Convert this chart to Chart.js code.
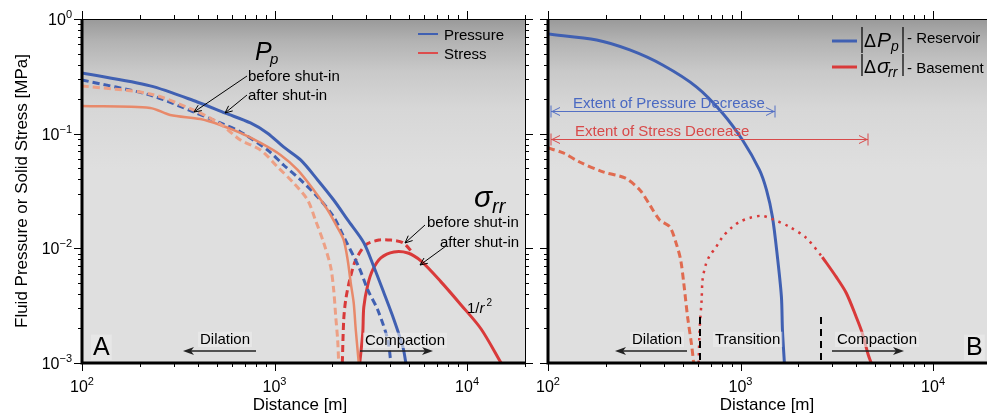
<!DOCTYPE html>
<html>
<head>
<meta charset="utf-8">
<script src="https://cdn.jsdelivr.net/npm/chart.js@4.4.0/dist/chart.umd.min.js"></script>
<style>
  html, body { margin: 0; padding: 0; background: #fff; overflow: hidden; }
  #wrap { position: relative; width: 987px; height: 418px; overflow: hidden; }
  canvas { position: absolute; top: 0; }
  #left { left: 0; }
  #right { left: 535px; }
</style>
</head>
<body>
<div id="wrap">
  <canvas id="left" width="540" height="418"></canvas>
  <canvas id="right" width="456" height="418"></canvas>
</div>
<script>
// ---- data: distance [m] and magnitude [MPa] ----
// panel A
const ppAfterX = [100, 226, 397, 556, 750, 920, 1114, 1366, 1675, 2029, 2399, 2909, 3279, 3697, 4168, 4642, 4812];
const ppAfterY = [0.338, 0.261, 0.189, 0.151, 0.124, 0.101, 0.0766, 0.059, 0.0395, 0.0264, 0.0177, 0.0112, 0.0069, 0.0041, 0.0024, 0.00138, 0.001];
const ppBeforeX = [100, 226, 379, 523, 665, 920, 1114, 1366, 1675, 2029, 2288, 2739, 3051, 3438, 3877, 4020];
const ppBeforeY = [0.294, 0.217, 0.155, 0.124, 0.1035, 0.0721, 0.0533, 0.0395, 0.0281, 0.0188, 0.0126, 0.0069, 0.00434, 0.0029, 0.00159, 0.001];
const stressAfterX = [100, 226, 287, 412, 523, 665, 846, 1075, 1318, 1597, 1888, 2128, 2288, 2399, 2488, 2578, 2642, 2739];
const stressAfterY = [0.174, 0.1675, 0.1455, 0.134, 0.119, 0.1014, 0.083, 0.0652, 0.0483, 0.0323, 0.0216, 0.0151, 0.0118, 0.0079, 0.005, 0.00334, 0.00195, 0.001];
const stressBeforeX = [100, 226, 379, 523, 665, 846, 1037, 1256, 1485, 1630, 1800, 1957, 2029, 2080, 2128, 2154];
const stressBeforeY = [0.261, 0.222, 0.161, 0.1215, 0.088, 0.0721, 0.0513, 0.0372, 0.0264, 0.0177, 0.0112, 0.0069, 0.00434, 0.00252, 0.00159, 0.001];
const sigmaAfterX = [2772, 2873, 2909, 3051, 3236, 3566, 4168, 4930, 5757, 7325, 9310, 11830, 15030];
const sigmaAfterY = [0.001, 0.00183, 0.00308, 0.0048, 0.00648, 0.00824, 0.0093, 0.0091, 0.00776, 0.0051, 0.00321, 0.00198, 0.001];
const sigmaBeforeX = [2250, 2288, 2343, 2458, 2642, 2978, 3483, 4020, 4642, 5230];
const sigmaBeforeY = [0.001, 0.00238, 0.00355, 0.0053, 0.00792, 0.0107, 0.0118, 0.0118, 0.0112, 0.0091];
// panel B
const resPressX = [100, 179, 266, 394, 592, 807, 1024, 1254, 1364, 1465, 1555, 1631, 1651, 1690];
const resPressY = [0.74, 0.656, 0.537, 0.397, 0.255, 0.151, 0.088, 0.0483, 0.0323, 0.0188, 0.0084, 0.00377, 0.00195, 0.001];
const baseDashX = [100, 120, 146, 193, 251, 300, 338, 380, 429, 466, 489, 507, 531, 557, 571];
const baseDashY = [0.075, 0.0679, 0.0566, 0.0464, 0.0411, 0.0323, 0.0239, 0.0177, 0.0154, 0.0107, 0.0079, 0.005, 0.00252, 0.00144, 0.001];
const baseDotX = [606, 613, 628, 635, 659, 691, 742, 807, 909, 988, 1113, 1284, 1465, 1795, 2198, 2659];
const baseDotY = [0.001, 0.00195, 0.00355, 0.0053, 0.00716, 0.00859, 0.0101, 0.0126, 0.0154, 0.017, 0.0184, 0.0192, 0.018, 0.0154, 0.0123, 0.0084];
const baseSolidX = [2659, 3141, 3542, 3990, 4287, 4606, 4775];
const baseSolidY = [0.0084, 0.00563, 0.00408, 0.00252, 0.00183, 0.00118, 0.001];

// axis labels
const xMajor = [100, 1000, 10000];
const xExp = ['2', '3', '4'];
const yMajor = [1, 0.1, 0.01, 0.001];
const yExp = ['0', '\u22121', '\u22122', '\u22123'];

const FONT = "'Liberation Sans', Arial, Helvetica, sans-serif";
const BLUE = '#4060b2';
const RED = '#d93a3a';
const SALMON = '#e8896a';
const SALMON_LT = '#eda085';
const SALMON_DK = '#e06b50';

function pts(xs, ys) {
    return xs.map((x, i) => ({x: x, y: ys[i]}));
}

function line(xs, ys, color, width, dash) {
    return {
        data: pts(xs, ys),
        borderColor: color,
        borderWidth: width,
        borderDash: dash || [],
        borderCapStyle: 'butt',
        pointRadius: 0,
        tension: 0.3,
        fill: false
    };
}

// ---- drawing helpers ----
function txt(ctx, s, x, y, size, color, italic) {
    ctx.font = (italic ? 'italic ' : '') + size + 'px ' + FONT;
    ctx.fillStyle = color || '#000';
    ctx.textAlign = 'left';
    ctx.textBaseline = 'alphabetic';
    ctx.fillText(s, x, y);
    return ctx.measureText(s).width;
}

function drawPow(ctx, x, y, exp, align) {
    ctx.font = '16px ' + FONT;
    const w1 = ctx.measureText('10').width;
    ctx.font = '11px ' + FONT;
    const w2 = ctx.measureText(exp).width;
    const x0 = align === 'center' ? x - (w1 + w2) / 2 : x - w1 - w2;
    txt(ctx, '10', x0, y, 16);
    txt(ctx, exp, x0 + w1, y - 7, 11);
}

function openArrow(ctx, x1, y1, x2, y2, color) {
    const ang = Math.atan2(y2 - y1, x2 - x1), h = 8, sp = 0.42;
    ctx.strokeStyle = color;
    ctx.lineWidth = 1;
    ctx.beginPath();
    ctx.moveTo(x1, y1); ctx.lineTo(x2, y2);
    ctx.moveTo(x2 - h * Math.cos(ang - sp), y2 - h * Math.sin(ang - sp));
    ctx.lineTo(x2, y2);
    ctx.lineTo(x2 - h * Math.cos(ang + sp), y2 - h * Math.sin(ang + sp));
    ctx.stroke();
}

function fillArrow(ctx, x1, y, x2) {
    const d = x2 > x1 ? 1 : -1;
    ctx.strokeStyle = '#222';
    ctx.fillStyle = '#222';
    ctx.lineWidth = 1.3;
    ctx.beginPath(); ctx.moveTo(x1, y); ctx.lineTo(x2 - d * 6, y); ctx.stroke();
    ctx.beginPath();
    ctx.moveTo(x2, y); ctx.lineTo(x2 - d * 11, y - 4); ctx.lineTo(x2 - d * 8, y); ctx.lineTo(x2 - d * 11, y + 4);
    ctx.closePath(); ctx.fill();
}

function boxText(ctx, s, x, y, size) {
    ctx.font = size + 'px ' + FONT;
    const w = ctx.measureText(s).width;
    ctx.fillStyle = 'rgba(236,236,236,0.6)';
    ctx.fillRect(x - 2, y - size * 0.82, w + 4, size * 1.02);
    txt(ctx, s, x, y, size);
}

function extent(ctx, x1, x2, y, color) {
    ctx.strokeStyle = color;
    ctx.lineWidth = 1;
    ctx.beginPath();
    ctx.moveTo(x1, y); ctx.lineTo(x2, y);
    ctx.moveTo(x1, y - 6); ctx.lineTo(x1, y + 6);
    ctx.moveTo(x2, y - 6); ctx.lineTo(x2, y + 6);
    ctx.moveTo(x1 + 9, y - 4); ctx.lineTo(x1 + 1, y); ctx.lineTo(x1 + 9, y + 4);
    ctx.moveTo(x2 - 9, y - 4); ctx.lineTo(x2 - 1, y); ctx.lineTo(x2 - 9, y + 4);
    ctx.stroke();
}

// ---- panel decoration plugin (background, axes, ticks, labels, notes) ----
function decor(cfg) {
    return {
        id: 'decor' + cfg.name,
        beforeDatasetsDraw(chart) {
            const a = chart.chartArea, ctx = chart.ctx;
            const g = ctx.createLinearGradient(0, a.top, 0, a.top + 150);
            g.addColorStop(0, '#999999');
            g.addColorStop(0.15, '#b3b3b3');
            g.addColorStop(0.35, '#c9c9c9');
            g.addColorStop(0.6, '#d7d7d7');
            g.addColorStop(1, '#dfdfdf');
            ctx.save();
            ctx.fillStyle = g;
            ctx.fillRect(a.left, a.top, a.right - a.left, a.bottom - a.top);
            ctx.restore();
        },
        afterDatasetsDraw(chart) {
            const a = chart.chartArea, ctx = chart.ctx;
            const xs = chart.scales.x, ys = chart.scales.y;
            ctx.save();
            // ticks
            ctx.strokeStyle = '#000';
            ctx.lineWidth = 1;
            ctx.beginPath();
            for (let e = 2; e <= 4; e++) {
                for (let k = 1; k <= 9; k++) {
                    const v = k * Math.pow(10, e);
                    if (v > xs.max) continue;
                    const px = Math.round(xs.getPixelForValue(v)) + 0.5;
                    const len = k === 1 ? 8 : 4;
                    ctx.moveTo(px, a.bottom); ctx.lineTo(px, a.bottom + len);
                    ctx.moveTo(px, a.top); ctx.lineTo(px, a.top - len);
                }
            }
            for (let e = -3; e <= 0; e++) {
                for (let k = 1; k <= 9; k++) {
                    const v = k * Math.pow(10, e);
                    if (v > ys.max) continue;
                    const py = Math.round(ys.getPixelForValue(v)) + 0.5;
                    const len = k === 1 ? 8 : 4;
                    ctx.moveTo(a.left, py); ctx.lineTo(a.left - len, py);
                    if (cfg.rightTicks) { ctx.moveTo(a.right, py); ctx.lineTo(a.right + len, py); }
                }
            }
            ctx.stroke();
            // frame
            ctx.beginPath();
            ctx.moveTo(a.left, a.top + 0.5); ctx.lineTo(a.right, a.top + 0.5);
            if (cfg.rightTicks) { ctx.moveTo(a.right + 0.5, a.top); ctx.lineTo(a.right + 0.5, a.bottom); }
            ctx.stroke();
            ctx.lineWidth = 3;
            ctx.beginPath();
            ctx.moveTo(a.left, a.top); ctx.lineTo(a.left, a.bottom); ctx.lineTo(a.right, a.bottom);
            ctx.stroke();
            // tick labels
            xMajor.forEach((v, i) => drawPow(ctx, xs.getPixelForValue(v), 392, xExp[i], 'center'));
            if (cfg.yLabels) {
                yMajor.forEach((v, i) => drawPow(ctx, a.left - 10, ys.getPixelForValue(v) + 6, yExp[i], 'right'));
                ctx.save();
                ctx.translate(27, (a.top + a.bottom) / 2);
                ctx.rotate(-Math.PI / 2);
                ctx.font = '17px ' + FONT;
                ctx.textAlign = 'center';
                ctx.fillStyle = '#000';
                ctx.fillText('Fluid Pressure or Solid Stress [MPa]', 0, 0);
                ctx.restore();
            }
            ctx.font = '17px ' + FONT;
            ctx.textAlign = 'center';
            ctx.fillStyle = '#000';
            ctx.fillText('Distance [m]', cfg.titleX, 410);
            cfg.notes(ctx, cfg.off);
            ctx.restore();
        }
    };
}

function notesA(ctx) {
    // legend
    ctx.lineWidth = 2;
    ctx.strokeStyle = BLUE;
    ctx.beginPath(); ctx.moveTo(418, 34); ctx.lineTo(438, 34); ctx.stroke();
    ctx.strokeStyle = '#dd4d4d';
    ctx.beginPath(); ctx.moveTo(418, 53); ctx.lineTo(438, 53); ctx.stroke();
    txt(ctx, 'Pressure', 444, 40, 15);
    txt(ctx, 'Stress', 444, 59, 15);
    // P_p
    txt(ctx, 'P', 255, 60, 25, '#000', true);
    txt(ctx, 'p', 270, 64, 15, '#000', true);
    txt(ctx, 'before shut-in', 248, 81, 15);
    txt(ctx, 'after shut-in', 248, 100, 15);
    openArrow(ctx, 247, 76, 194, 112, '#000');
    openArrow(ctx, 247, 95, 225, 113, '#000');
    // sigma_rr
    txt(ctx, '\u03c3', 474, 207, 30, '#000', true);
    txt(ctx, 'rr', 492, 213, 20, '#000', true);
    txt(ctx, 'before shut-in', 427, 227, 15);
    txt(ctx, 'after shut-in', 440, 247, 15);
    openArrow(ctx, 425, 225, 405, 243, '#000');
    openArrow(ctx, 446, 246, 420, 265, '#000');
    // 1/r^2
    let w = txt(ctx, '1/', 467, 313, 15);
    w += txt(ctx, 'r', 467 + w, 313, 15, '#000', true);
    txt(ctx, '2', 469 + w, 306, 10);
    // regime notes
    boxText(ctx, 'A', 93, 355, 25);
    boxText(ctx, 'Dilation', 200, 344, 15);
    fillArrow(ctx, 256, 351, 183);
    boxText(ctx, 'Compaction', 365, 345, 15);
    fillArrow(ctx, 360, 351, 433);
}

function notesB(ctx, off) {
    ctx.save();
    ctx.translate(-off, 0);
    // legend
    ctx.lineWidth = 3;
    ctx.strokeStyle = BLUE;
    ctx.beginPath(); ctx.moveTo(832, 41); ctx.lineTo(857, 41); ctx.stroke();
    ctx.strokeStyle = RED;
    ctx.beginPath(); ctx.moveTo(832, 67); ctx.lineTo(857, 67); ctx.stroke();
    ctx.strokeStyle = '#000';
    ctx.lineWidth = 1.2;
    ctx.beginPath();
    ctx.moveTo(862, 27); ctx.lineTo(862, 53);
    ctx.moveTo(903, 27); ctx.lineTo(903, 53);
    ctx.moveTo(862, 54); ctx.lineTo(862, 76);
    ctx.moveTo(903, 54); ctx.lineTo(903, 76);
    ctx.stroke();
    txt(ctx, '\u0394', 864, 47, 18);
    txt(ctx, 'P', 877, 47, 21, '#000', true);
    txt(ctx, 'p', 891, 51, 14, '#000', true);
    txt(ctx, '- Reservoir', 907, 43, 15);
    txt(ctx, '\u0394', 864, 73, 18);
    txt(ctx, '\u03c3', 877, 73, 21, '#000', true);
    txt(ctx, 'rr', 888, 77, 14, '#000', true);
    txt(ctx, '- Basement', 907, 73, 15);
    // extents
    txt(ctx, 'Extent of Pressure Decrease', 573, 108, 15, '#4a69c2');
    extent(ctx, 551, 775, 111.5, '#5470c4');
    txt(ctx, 'Extent of Stress Decrease', 575, 136, 15, '#d84a4a');
    extent(ctx, 551, 868, 139.5, '#d84a4a');
    // transition markers
    ctx.strokeStyle = '#000';
    ctx.lineWidth = 2;
    ctx.setLineDash([7, 5]);
    ctx.beginPath();
    ctx.moveTo(700, 317); ctx.lineTo(700, 363);
    ctx.moveTo(821, 317); ctx.lineTo(821, 363);
    ctx.stroke();
    ctx.setLineDash([]);
    boxText(ctx, 'Dilation', 632, 344, 15);
    fillArrow(ctx, 687, 351, 615);
    boxText(ctx, 'Transition', 715, 344, 15);
    boxText(ctx, 'Compaction', 837, 344, 15);
    fillArrow(ctx, 832, 351, 904);
    boxText(ctx, 'B', 966, 355, 25);
    ctx.restore();
}

function makeChart(id, datasets, cfg) {
    return new Chart(document.getElementById(id), {
        type: 'line',
        data: {datasets: datasets},
        options: {
            responsive: false,
            animation: false,
            events: [],
            layout: {padding: {top: 19, right: cfg.padRight, left: 0, bottom: 0}},
            plugins: {legend: {display: false}, tooltip: {enabled: false}},
            scales: {
                x: {
                    type: 'logarithmic', min: 100, max: 20000,
                    grid: {display: false, drawTicks: false},
                    border: {display: false},
                    ticks: {display: false},
                    afterFit: s => { s.height = 55; }
                },
                y: {
                    type: 'logarithmic', min: 0.001, max: 1,
                    grid: {display: false, drawTicks: false},
                    border: {display: false},
                    ticks: {display: false},
                    afterFit: s => { s.width = cfg.yWidth; }
                }
            }
        },
        plugins: [decor(cfg)]
    });
}

const chartA = makeChart('left', [
    line(stressBeforeX, stressBeforeY, SALMON_LT, 3, [7, 4]),
    line(stressAfterX, stressAfterY, SALMON, 2.5),
    line(ppBeforeX, ppBeforeY, BLUE, 3, [7, 4]),
    line(ppAfterX, ppAfterY, BLUE, 3),
    line(sigmaBeforeX, sigmaBeforeY, RED, 3, [7, 4]),
    line(sigmaAfterX, sigmaAfterY, RED, 3)
], {name: 'A', padRight: 15, yWidth: 82, yLabels: true, rightTicks: true, titleX: 300, off: 0, notes: notesA});

const chartB = makeChart('right', [
    line(baseDashX, baseDashY, SALMON_DK, 3, [7, 4]),
    line(baseDotX, baseDotY, RED, 2.5, [2.5, 5]),
    line(baseSolidX, baseSolidY, RED, 3),
    line(resPressX, resPressY, BLUE, 3)
], {name: 'B', padRight: 0, yWidth: 13, yLabels: false, rightTicks: false, titleX: 767 - 535, off: 535, notes: notesB});
</script>
</body>
</html>
